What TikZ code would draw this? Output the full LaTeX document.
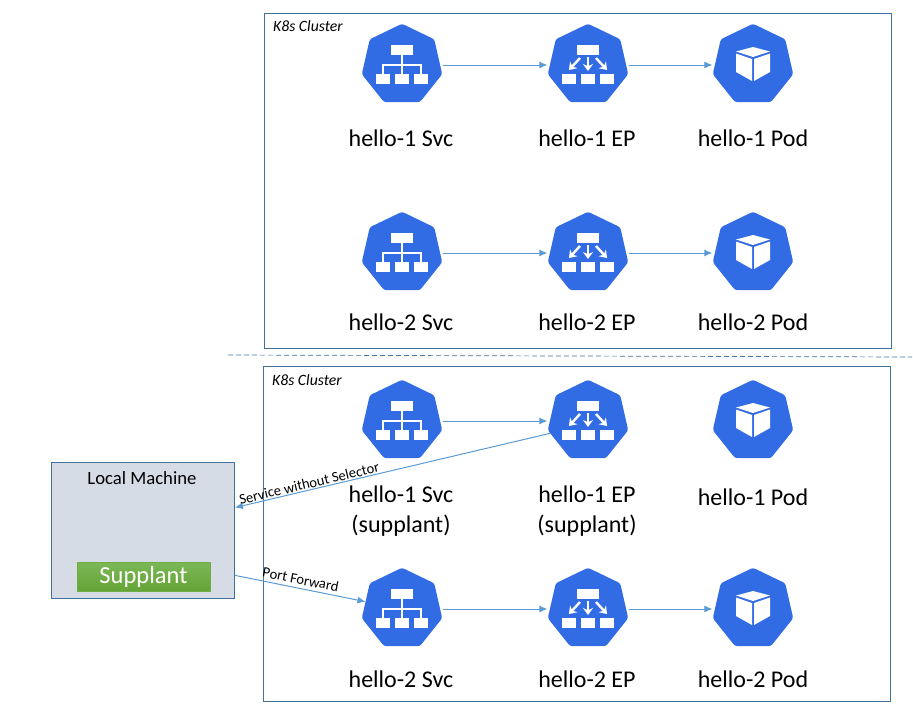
\documentclass[tikz,border=0pt]{standalone}
\usepackage{fontspec}
\setmainfont{Carlito}
\usetikzlibrary{shapes.geometric, arrows.meta}
\definecolor{k8sblue}{HTML}{326CE5}
\definecolor{linkblue}{HTML}{5B9BD5}
\definecolor{boxblue}{HTML}{41719C}
\definecolor{localfill}{HTML}{D6DCE5}
\definecolor{greentop}{HTML}{7CB756}
\definecolor{greenbottom}{HTML}{64A436}
\definecolor{greenline}{HTML}{70AD47}
\tikzset{>={Latex[length=8pt,width=7pt]}}
\tikzset{every text node part/.style={align=center}}
\tikzset{
	hepta/.style={regular polygon, regular polygon sides=7, minimum size=82.5pt, inner sep=0pt,
		outer sep=0pt, fill=k8sblue, rounded corners=2.5pt},
	link/.style={->, draw=linkblue, line width=1pt},
	gap/.style={shorten >=2.5pt, shorten <=2.5pt},
	cluster/.style={draw=boxblue, line width=1pt, anchor=north west, inner sep=0pt},
	clustername/.style={anchor=west, font=\fontsize{15.7}{18}\selectfont\itshape, inner sep=0pt},
	caption/.style={font=\fontsize{24}{30}\selectfont},
	tag/.style={font=\fontsize{14.5}{16}\selectfont, inner sep=1pt}
}

% Service, endpoint and pod glyphs
\newcommand{\boxrow}{
	\fill[white] (-11,-20) rectangle (11,-10);
	\foreach \shift in {-19,0,19}
		\fill[white] (\shift-6.8,9) rectangle (\shift+6.8,19);
}
\newcommand{\svcglyph}{
	\boxrow
	\draw[white, line width=1.4pt] (0,-10) -- (0,9) (-19,9) -- (-19,0) -- (19,0) -- (19,9);
}
\newcommand{\epglyph}{
	\boxrow
	\draw[-{Stealth[length=7pt,width=10pt]}, white, line width=2.4pt] (-8,-7) -- (-19,5);
	\draw[-{Stealth[length=7pt,width=10pt]}, white, line width=2.4pt] (0,-8) -- (0,6);
	\draw[-{Stealth[length=7pt,width=10pt]}, white, line width=2.4pt] (8,-7) -- (19,5);
}
\newcommand{\podglyph}{
	\fill[white] (-17,-13.5) -- (0,-18) -- (17,-13.5) -- (0,-8) -- cycle;
	\fill[white] (-17,-11.5) -- (-1,-6) -- (-1,16) -- (-17,7) -- cycle;
	\fill[white] (1,-6) -- (17,-11.5) -- (17,7) -- (1,16) -- cycle;
}

\begin{document}
\begin{tikzpicture}[x=1pt, y=-1pt]
\useasboundingbox (0,0) rectangle (913,713);

% Clusters
\node[cluster, minimum width=627pt, minimum height=335pt] (upper) at (264,13) {};
\node[cluster, minimum width=627pt, minimum height=335pt] (lower) at (263,366) {};
\node[clustername] (uppername) at (273,26) {K8s Cluster};
\node[clustername] (lowername) at (272,380) {K8s Cluster};

% Separator
\coordinate (sepleft) at (228,355);
\coordinate (sepright) at (912,357);
\draw[boxblue, line width=.7pt, dash pattern=on 5pt off 3pt] (sepleft) -- (sepright);

% Icons
\foreach \row/\y in {a/65, b/253, c/421, d/609}
{
	\node[hepta] (svc\row) at (402,\y) {};
	\node[hepta] (ep\row) at (588,\y) {};
	\node[hepta] (pod\row) at (753,\y) {};
	\begin{scope}[shift={(402,\y)}] \svcglyph \end{scope}
	\begin{scope}[shift={(588,\y)}] \epglyph \end{scope}
	\begin{scope}[shift={(753,\y)}] \podglyph \end{scope}
}

% Captions
\foreach \row/\num/\y in {a/1/138, b/2/322, d/2/679}
{
	\node[caption] (svc\row text) at (401,\y) {hello-\num{} Svc};
	\node[caption] (ep\row text) at (587,\y) {hello-\num{} EP};
	\node[caption] (pod\row text) at (753,\y) {hello-\num{} Pod};
}
\node[caption, anchor=north] (svcctext) at (401,482.5) {hello-1 Svc\\(supplant)};
\node[caption, anchor=north] (epctext) at (587,482.5) {hello-1 EP\\(supplant)};
\node[caption] (podctext) at (753,497) {hello-1 Pod};

% Local machine
\node[draw=boxblue, fill=localfill, line width=1pt, minimum width=183pt, minimum height=136pt,
	anchor=north west, inner sep=0pt] (local) at (51,462) {};
\node[font=\fontsize{18.7}{22}\selectfont] (localname) at (142,478) {Local Machine};
\node[draw=greenline, top color=greentop, bottom color=greenbottom,
	minimum width=133pt, minimum height=29pt, inner sep=0pt, text=white, font=\fontsize{24.5}{28}\selectfont] (supplant) at (143.5,576.5) {Supplant};

% Links
\foreach \row in {a,b,c,d}
	\draw[link, gap] (svc\row) -- (ep\row);
\foreach \row in {a,b,d}
	\draw[link, gap] (ep\row) -- (pod\row);
\draw[link] (epc.198) -- node[tag, above, sloped, pos=.76] {Service without Selector} (local.14);
\draw[link] (local.-26.7) -- node[tag, rotate=-11, yshift=9pt, pos=.49] {Port Forward} (svcd);

\end{tikzpicture}
\end{document}
